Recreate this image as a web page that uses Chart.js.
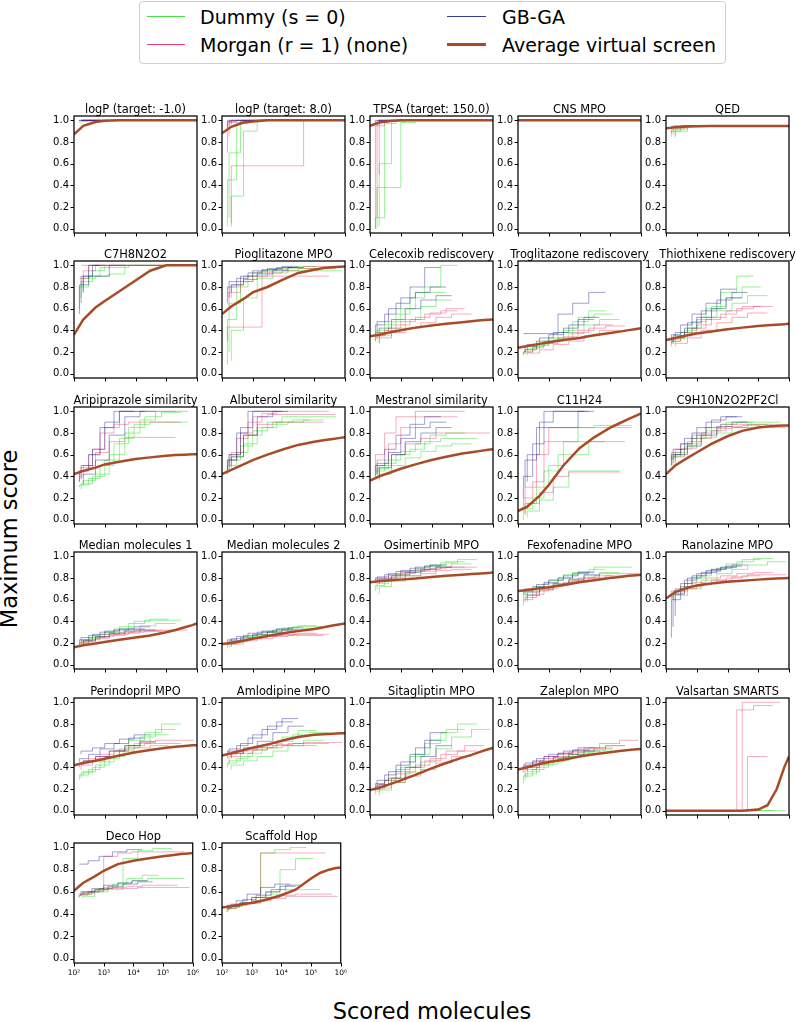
<!DOCTYPE html>
<html>
<head>
<meta charset="utf-8">
<script src="https://cdn.jsdelivr.net/npm/chart.js@4.4.1/dist/chart.umd.min.js"></script>
<style>
  body { margin: 0; background: #fff; font-family: "DejaVu Sans", sans-serif; }
  #page { position: relative; width: 796px; height: 1022px; overflow: hidden; }
  canvas { position: absolute; }
  .lg-box { position: absolute; left: 139px; top: 1px; width: 585px; height: 61px;
            border: 1px solid #d0d0d0; border-radius: 4px; }
  .lg-line { position: absolute; height: 0; }
  .lg-text { position: absolute; font-size: 19px; line-height: 19px; color: #000; white-space: nowrap; }
  .axis-title { position: absolute; font-size: 22.5px; line-height: 22.5px; color: #000; white-space: nowrap; }
</style>
</head>
<body>
<div id="page">
  <div class="lg-box"></div>
  <div class="lg-line" style="left:147px;top:16px;width:38px;border-top:1.5px solid #44e044"></div>
  <div class="lg-text" style="left:200px;top:8px">Dummy (s = 0)</div>
  <div class="lg-line" style="left:147px;top:44px;width:38px;border-top:1.5px solid #e8406a"></div>
  <div class="lg-text" style="left:200px;top:36px">Morgan (r = 1) (none)</div>
  <div class="lg-line" style="left:447px;top:16px;width:39px;border-top:1.5px solid #3a3a9a"></div>
  <div class="lg-text" style="left:502px;top:8px">GB-GA</div>
  <div class="lg-line" style="left:447px;top:43px;width:39px;border-top:3px solid #aa4b28"></div>
  <div class="lg-text" style="left:502px;top:36px">Average virtual screen</div>
  <div class="axis-title" style="left:9px;top:539px;transform:translate(-50%,-50%) rotate(-90deg)">Maximum score</div>
  <div class="axis-title" style="left:432px;top:1000px;transform:translateX(-50%)">Scored molecules</div>
</div>
<script>
// panel titles, row by row
const TITLES = [
  'logP (target: -1.0)', 'logP (target: 8.0)', 'TPSA (target: 150.0)', 'CNS MPO', 'QED',
  'C7H8N2O2', 'Pioglitazone MPO', 'Celecoxib rediscovery', 'Troglitazone rediscovery', 'Thiothixene rediscovery',
  'Aripiprazole similarity', 'Albuterol similarity', 'Mestranol similarity', 'C11H24', 'C9H10N2O2PF2Cl',
  'Median molecules 1', 'Median molecules 2', 'Osimertinib MPO', 'Fexofenadine MPO', 'Ranolazine MPO',
  'Perindopril MPO', 'Amlodipine MPO', 'Sitagliptin MPO', 'Zaleplon MPO', 'Valsartan SMARTS',
  'Deco Hop', 'Scaffold Hop'
];

// scored molecules at which each of the three runs reports its max score
const RUN_X = [
  [150, 300, 700, 2000, 6000, 20000, 70000, 300000],
  [170, 400, 1000, 3000, 9000, 30000, 120000, 500000],
  [200, 500, 1400, 4500, 14000, 45000, 200000, 800000]
];
const AVG_X = [100, 200, 500, 1000, 3000, 10000, 30000, 100000, 200000, 400000, 700000, 1000000];

const X_TICKS = [100, 1000, 10000, 100000, 1000000];
const X_TICK_LABELS = ['10²', '10³', '10⁴', '10⁵', '10⁶'];
const Y_TICKS = [0, 0.2, 0.4, 0.6, 0.8, 1.0];

const n = null;

const DUMMY = [
  [[0.98,1,1,1,1,1,1,1],[0.97,0.99,1,1,1,1,1,n],[0.99,1,1,1,1,1,1,1]],
  [[0.02,0.45,0.97,1,1,1,1,1],[0.1,0.7,0.99,1,1,1,1,n],[0.05,0.3,0.9,1,1,1,1,1]],
  [[0,0.1,0.97,1,1,1,1,1],[0,0.38,0.38,0.98,1,1,1,n],[0.02,0.6,0.99,1,1,1,1,1]],
  [[1,1,1,1,1,1,1,1],[1,1,1,1,1,1,1,n],[1,1,1,1,1,1,1,1]],
  [[0.85,0.9,0.94,0.948,0.948,0.948,0.948,0.948],[0.87,0.92,0.945,0.948,0.948,0.948,0.948,n],[0.84,0.9,0.94,0.948,0.948,0.948,0.948,0.948]],
  [[0.6,0.8,0.9,0.98,0.98,1,1,1],[0.7,0.85,0.95,1,1,1,1,n],[0.75,0.88,0.9,0.92,1,1,1,1]],
  [[0.08,0.5,0.8,0.9,0.95,0.97,0.97,0.97],[0.2,0.65,0.85,0.93,0.96,0.98,0.99,n],[0.12,0.4,0.7,0.88,0.93,0.95,0.95,0.95]],
  [[0.3,0.38,0.45,0.55,0.7,0.8,1,n],[0.32,0.4,0.48,0.6,0.75,0.75,n,n],[0.28,0.35,0.42,0.5,0.62,0.68,n,n]],
  [[0.17,0.2,0.25,0.3,0.38,0.48,0.58,n],[0.18,0.22,0.27,0.33,0.4,0.52,0.55,n],[0.2,0.23,0.28,0.32,0.37,0.45,0.5,n]],
  [[0.25,0.3,0.38,0.48,0.6,0.75,0.9,n],[0.27,0.32,0.4,0.5,0.62,0.7,0.8,n],[0.28,0.33,0.42,0.52,0.58,0.65,0.72,n]],
  [[0.3,0.32,0.38,0.5,0.7,0.85,0.95,0.99],[0.28,0.33,0.4,0.55,0.75,0.88,0.9,0.9],[0.32,0.36,0.42,0.6,0.8,0.92,1,n]],
  [[0.45,0.5,0.62,0.78,0.85,0.9,0.92,n],[0.48,0.55,0.68,0.82,0.9,0.95,0.95,0.95],[0.5,0.58,0.7,0.85,0.88,0.9,0.92,n]],
  [[0.38,0.45,0.52,0.6,0.65,0.72,0.75,0.75],[0.4,0.47,0.55,0.63,0.7,0.78,0.8,n],[0.36,0.42,0.5,0.57,0.63,0.68,0.7,n]],
  [[0,0.1,0.2,0.45,0.6,0.6,0.72,n],[0.05,0.15,0.3,0.5,0.72,0.85,0.87,0.87],[0.02,0.08,0.18,0.3,0.45,0.45,0.45,n]],
  [[0.5,0.58,0.65,0.75,0.82,0.88,0.9,n],[0.52,0.6,0.68,0.78,0.85,0.9,0.9,0.9],[0.55,0.62,0.7,0.76,0.8,0.85,0.88,n]],
  [[0.17,0.2,0.24,0.28,0.33,0.38,0.41,0.41],[0.18,0.22,0.26,0.3,0.35,0.4,0.42,n],[0.2,0.23,0.25,0.29,0.32,0.36,0.38,n]],
  [[0.15,0.19,0.22,0.26,0.3,0.33,0.35,0.35],[0.16,0.2,0.23,0.27,0.31,0.34,0.36,n],[0.17,0.21,0.24,0.28,0.3,0.32,0.33,n]],
  [[0.68,0.73,0.78,0.83,0.87,0.91,0.94,0.97],[0.7,0.75,0.8,0.84,0.88,0.92,0.95,n],[0.65,0.72,0.77,0.82,0.86,0.9,0.93,n]],
  [[0.6,0.65,0.7,0.75,0.8,0.85,0.88,n],[0.62,0.68,0.72,0.78,0.83,0.86,0.9,0.9],[0.58,0.64,0.69,0.74,0.78,0.82,0.85,n]],
  [[0.6,0.65,0.72,0.8,0.86,0.9,0.95,0.98],[0.62,0.68,0.75,0.82,0.88,0.93,0.97,n],[0.58,0.64,0.7,0.78,0.84,0.88,0.92,0.95]],
  [[0.28,0.33,0.38,0.45,0.55,0.65,0.72,0.8],[0.3,0.35,0.4,0.48,0.57,0.62,0.7,n],[0.32,0.36,0.42,0.5,0.58,0.68,0.75,n]],
  [[0.4,0.44,0.48,0.53,0.58,0.64,0.7,0.72],[0.42,0.46,0.5,0.56,0.62,0.68,0.74,n],[0.38,0.42,0.46,0.5,0.55,0.6,0.65,n]],
  [[0.15,0.2,0.28,0.38,0.5,0.62,0.72,0.8],[0.17,0.23,0.3,0.4,0.52,0.65,0.75,n],[0.14,0.19,0.26,0.35,0.45,0.57,0.68,0.75]],
  [[0.25,0.32,0.38,0.43,0.48,0.52,0.56,0.6],[0.28,0.34,0.4,0.45,0.5,0.54,0.58,n],[0.3,0.36,0.42,0.46,0.5,0.53,0.55,n]],
  [[0,0,0,0,0,0,0,0],[0,0,0,0,0,0,0,n],[0,0,0,0,0,0,0,0]],
  [[0.55,0.57,0.6,0.63,0.67,0.72,0.75,n],[0.56,0.58,0.61,0.64,0.68,0.7,0.72,0.72],[0.54,0.56,0.6,0.62,0.9,0.97,0.99,n]],
  [[0.42,0.45,0.48,0.5,0.95,0.98,1,n],[0.43,0.46,0.5,0.55,0.6,0.8,0.9,n],[0.44,0.47,0.5,0.55,0.58,0.62,0.62,n]]
];

const MORGAN = [
  [[1,1,1,1,1,1,1,1],[0.99,1,1,1,1,1,1,1],[1,1,1,1,1,1,1,1]],
  [[0.7,1,1,1,1,1,1,1],[0.85,0.98,1,1,1,1,1,1],[0.02,0.58,0.58,0.58,0.58,0.58,1,1]],
  [[0,0.95,1,1,1,1,1,1],[0.1,0.98,1,1,1,1,1,1],[0.5,1,1,1,1,1,1,1]],
  [[1,1,1,1,1,1,1,1],[1,1,1,1,1,1,1,1],[1,1,1,1,1,1,1,1]],
  [[0.88,0.93,0.946,0.948,0.948,0.948,0.948,0.948],[0.9,0.94,0.948,0.948,0.948,0.948,0.948,0.948],[0.86,0.92,0.947,0.948,0.948,0.948,0.948,0.948]],
  [[0.88,0.88,1,1,1,1,1,1],[1,1,1,1,1,1,1,1],[0.8,0.95,1,1,1,1,1,1]],
  [[0.3,0.43,0.43,0.43,0.9,0.9,0.9,0.9],[0.6,0.75,0.85,0.9,0.93,0.95,0.97,0.97],[0.7,0.82,0.9,0.94,0.96,0.98,0.99,0.99]],
  [[0.3,0.35,0.4,0.45,0.5,0.55,0.58,n],[0.32,0.38,0.42,0.48,0.52,0.56,0.6,n],[0.28,0.33,0.38,0.42,0.47,0.52,0.55,n]],
  [[0.18,0.2,0.24,0.28,0.33,0.38,0.42,0.44],[0.2,0.22,0.26,0.3,0.34,0.4,0.45,n],[0.17,0.19,0.22,0.27,0.3,0.35,0.4,n]],
  [[0.27,0.3,0.35,0.42,0.5,0.55,0.6,0.62],[0.3,0.33,0.38,0.45,0.52,0.58,0.62,n],[0.25,0.28,0.33,0.4,0.47,0.52,0.56,n]],
  [[0.35,0.45,0.6,0.8,0.88,0.9,0.9,0.9],[0.38,0.48,0.65,0.85,1,1,1,1],[0.4,0.5,0.62,0.72,0.76,0.76,0.76,n]],
  [[0.45,0.55,0.75,0.9,0.98,1,1,1],[0.5,0.6,0.8,0.95,0.97,0.97,0.97,0.97],[0.55,0.62,0.78,0.88,0.9,0.9,0.9,n]],
  [[0.45,0.6,0.8,0.95,0.95,0.95,0.95,n],[0.42,0.55,0.7,0.85,1,1,1,n],[0.4,0.5,0.6,0.7,0.75,0.8,0.8,0.8]],
  [[0.1,0.2,0.35,0.72,0.72,0.72,0.72,0.72],[0.05,0.3,0.6,0.85,0.85,0.85,0.85,0.85],[0.1,0.15,0.25,0.4,0.44,0.44,0.44,n]],
  [[0.55,0.62,0.7,0.78,0.85,0.88,0.88,0.88],[0.5,0.58,0.66,0.75,0.82,0.86,0.87,n],[0.58,0.65,0.72,0.8,0.84,0.85,0.85,0.85]],
  [[0.18,0.2,0.23,0.26,0.28,0.3,0.31,n],[0.2,0.22,0.25,0.28,0.3,0.32,0.32,0.32],[0.19,0.21,0.24,0.27,0.29,0.31,0.31,n]],
  [[0.18,0.2,0.22,0.24,0.26,0.27,0.28,0.28],[0.19,0.21,0.23,0.25,0.27,0.28,0.29,n],[0.16,0.19,0.22,0.24,0.26,0.27,0.27,n]],
  [[0.75,0.78,0.8,0.83,0.86,0.88,0.9,0.9],[0.76,0.79,0.82,0.85,0.87,0.89,0.9,n],[0.74,0.77,0.8,0.82,0.84,0.87,0.88,n]],
  [[0.55,0.6,0.65,0.7,0.74,0.78,0.8,0.82],[0.58,0.62,0.68,0.72,0.76,0.8,0.82,n],[0.6,0.64,0.69,0.73,0.77,0.8,0.84,0.84]],
  [[0.62,0.68,0.72,0.76,0.8,0.82,0.84,0.85],[0.6,0.66,0.7,0.74,0.78,0.8,0.82,n],[0.64,0.68,0.72,0.75,0.78,0.81,0.83,0.83]],
  [[0.4,0.44,0.48,0.52,0.56,0.6,0.62,0.62],[0.38,0.42,0.46,0.5,0.55,0.58,0.6,n],[0.42,0.46,0.5,0.55,0.6,0.63,0.65,0.65]],
  [[0.48,0.52,0.55,0.58,0.6,0.61,0.62,0.62],[0.45,0.5,0.53,0.56,0.58,0.6,0.6,n],[0.5,0.53,0.56,0.58,0.6,0.62,0.63,0.63]],
  [[0.18,0.22,0.28,0.34,0.4,0.46,0.52,0.55],[0.2,0.24,0.3,0.36,0.42,0.48,0.55,0.6],[0.17,0.21,0.26,0.32,0.38,0.44,0.5,n]],
  [[0.35,0.4,0.45,0.5,0.53,0.56,0.58,0.6],[0.32,0.38,0.43,0.48,0.52,0.55,0.57,n],[0.38,0.42,0.46,0.5,0.54,0.58,0.62,0.65]],
  [[0,0,0,0,0,0,0.93,0.97],[0,0,0,0,0,0,1,1],[0,0,0,0,0,0,0.5,n]],
  [[0.55,0.58,0.6,0.63,0.64,0.65,0.66,0.66],[0.56,0.58,0.6,0.92,0.95,0.96,0.96,0.96],[0.57,0.59,0.62,0.63,0.63,0.64,0.64,0.64]],
  [[0.42,0.45,0.48,0.5,0.95,0.95,0.95,0.95],[0.44,0.47,0.5,0.52,0.55,0.57,0.58,0.58],[0.45,0.48,0.5,0.52,0.54,0.56,0.56,0.56]]
];

const GBGA = [
  [[0.995,1,1,1,1,1,n,n],[1,1,1,1,1,1,n,n],[0.99,1,1,1,1,1,n,n]],
  [[0.93,0.99,1,1,1,1,n,n],[0.95,1,1,1,1,1,n,n],[0.96,1,1,1,1,1,n,n]],
  [[0.97,1,1,1,1,1,n,n],[0.98,1,1,1,1,1,n,n],[0.96,1,1,1,1,1,n,n]],
  [[1,1,1,1,n,n,n,n],[1,1,1,1,n,n,n,n],[1,1,1,n,n,n,n,n]],
  [[0.92,0.945,0.948,0.948,0.948,0.948,n,n],[0.93,0.946,0.948,0.948,0.948,0.948,n,n],[0.935,0.947,0.948,0.948,0.948,0.948,n,n]],
  [[0.55,0.82,1,n,n,n,n,n],[0.65,0.9,1,n,n,n,n,n],[0.75,0.9,0.9,1,n,n,n,n]],
  [[0.65,0.8,0.88,0.93,0.96,0.98,n,n],[0.7,0.85,0.9,0.95,0.97,0.99,n,n],[0.75,0.82,0.87,0.92,0.95,0.98,n,n]],
  [[0.35,0.45,0.55,0.65,0.8,0.98,n,n],[0.38,0.48,0.6,0.7,0.75,0.8,n,n],[0.33,0.42,0.5,0.6,0.68,0.72,n,n]],
  [[0.37,0.37,0.37,0.37,0.55,0.65,0.75,n],[0.2,0.25,0.3,0.36,0.42,0.5,n,n],[0.22,0.27,0.33,0.38,0.45,0.52,n,n]],
  [[0.3,0.36,0.45,0.55,0.65,0.78,n,n],[0.28,0.35,0.42,0.52,0.6,0.7,n,n],[0.32,0.38,0.47,0.58,0.68,0.75,n,n]],
  [[0.35,0.45,0.6,0.85,1,1,n,n],[0.38,0.5,0.65,0.9,1,n,n,n],[0.33,0.42,0.55,0.78,0.95,1,n,n]],
  [[0.42,0.55,0.8,1,1,n,n,n],[0.45,0.6,0.85,1,1,n,n,n],[0.48,0.58,0.78,0.95,1,n,n,n]],
  [[0.4,0.5,0.65,0.78,0.88,0.95,n,n],[0.42,0.52,0.62,0.75,0.85,0.9,n,n],[0.38,0.48,0.6,0.72,0.8,0.85,n,n]],
  [[0.2,0.4,0.7,1,1,1,n,n],[0.3,0.55,0.85,0.85,0.85,1,n,n],[0.35,0.6,0.9,1,1,n,n,n]],
  [[0.5,0.6,0.7,0.8,0.9,0.95,n,n],[0.55,0.65,0.75,0.85,0.92,0.95,n,n],[0.52,0.6,0.68,0.78,0.86,0.9,n,n]],
  [[0.2,0.23,0.27,0.3,0.32,0.33,n,n],[0.22,0.25,0.28,0.31,0.33,0.35,n,n],[0.19,0.22,0.26,0.29,0.31,0.32,n,n]],
  [[0.2,0.23,0.26,0.29,0.31,0.33,n,n],[0.19,0.22,0.25,0.28,0.3,0.32,n,n],[0.21,0.24,0.27,0.3,0.32,0.34,n,n]],
  [[0.77,0.8,0.83,0.86,0.89,0.91,n,n],[0.78,0.81,0.84,0.87,0.9,0.92,n,n],[0.76,0.79,0.82,0.85,0.88,0.9,n,n]],
  [[0.65,0.68,0.72,0.76,0.8,0.84,n,n],[0.66,0.7,0.74,0.78,0.82,0.85,n,n],[0.63,0.67,0.71,0.75,0.79,0.83,n,n]],
  [[0.25,0.6,0.75,0.82,0.87,0.9,n,n],[0.35,0.65,0.78,0.84,0.88,0.91,n,n],[0.45,0.7,0.8,0.85,0.89,0.92,n,n]],
  [[0.45,0.48,0.52,0.57,0.62,0.67,n,n],[0.52,0.55,0.58,0.62,0.66,0.7,n,n],[0.43,0.46,0.5,0.55,0.6,0.64,n,n]],
  [[0.5,0.55,0.6,0.67,0.75,0.82,n,n],[0.52,0.57,0.62,0.7,0.78,0.85,n,n],[0.48,0.53,0.58,0.64,0.72,0.78,n,n]],
  [[0.2,0.25,0.33,0.42,0.52,0.65,n,n],[0.22,0.28,0.36,0.45,0.58,0.72,n,n],[0.19,0.24,0.3,0.4,0.5,0.6,n,n]],
  [[0.38,0.42,0.46,0.5,0.53,0.56,n,n],[0.4,0.44,0.48,0.52,0.55,0.58,n,n],[0.36,0.4,0.45,0.49,0.52,0.55,n,n]],
  [[0,0,0,0,0,0,n,n],[0,0,0,0,0,0,n,n],[0,0,0,0,0,0,n,n]],
  [[0.85,0.85,0.88,0.92,0.96,0.98,n,n],[0.57,0.6,0.63,0.66,0.68,0.7,n,n],[0.58,0.6,0.62,0.65,0.67,0.69,n,n]],
  [[0.45,0.48,0.52,0.58,0.64,0.67,n,n],[0.44,0.47,0.5,0.55,0.6,0.65,n,n],[0.46,0.49,0.53,0.57,0.62,0.66,n,n]]
];

// average virtual screen, on AVG_X
const AVG = [
  [0.87,0.95,0.985,0.995,1,1,1,1,1,1,1,1],
  [0.88,0.94,0.98,0.99,1,1,1,1,1,1,1,1],
  [0.95,0.98,0.995,1,1,1,1,1,1,1,1,1],
  [1,1,1,1,1,1,1,1,1,1,1,1],
  [0.928,0.935,0.942,0.945,0.947,0.948,0.948,0.948,0.948,0.948,0.948,0.948],
  [0.36,0.5,0.61,0.67,0.76,0.86,0.95,1,1,1,1,1],
  [0.55,0.62,0.69,0.75,0.8,0.87,0.93,0.96,0.975,0.983,0.988,0.99],
  [0.345,0.36,0.385,0.4,0.425,0.445,0.46,0.475,0.484,0.492,0.497,0.5],
  [0.24,0.255,0.275,0.29,0.31,0.33,0.355,0.375,0.388,0.402,0.413,0.42],
  [0.31,0.33,0.355,0.37,0.39,0.41,0.425,0.44,0.446,0.452,0.457,0.46],
  [0.42,0.45,0.48,0.51,0.535,0.56,0.575,0.59,0.596,0.6,0.603,0.605],
  [0.42,0.46,0.51,0.55,0.6,0.65,0.69,0.72,0.733,0.745,0.755,0.76],
  [0.36,0.4,0.44,0.47,0.51,0.55,0.58,0.61,0.622,0.635,0.645,0.65],
  [0.08,0.12,0.22,0.32,0.5,0.66,0.76,0.85,0.89,0.93,0.96,0.98],
  [0.42,0.5,0.57,0.62,0.7,0.77,0.82,0.85,0.86,0.866,0.869,0.87],
  [0.16,0.18,0.195,0.21,0.23,0.25,0.27,0.3,0.32,0.345,0.365,0.38],
  [0.19,0.2,0.22,0.24,0.265,0.29,0.31,0.33,0.345,0.362,0.374,0.38],
  [0.76,0.77,0.78,0.785,0.795,0.81,0.82,0.83,0.836,0.842,0.847,0.85],
  [0.68,0.69,0.705,0.715,0.735,0.76,0.78,0.8,0.81,0.82,0.826,0.83],
  [0.61,0.67,0.71,0.73,0.75,0.765,0.775,0.785,0.79,0.795,0.798,0.8],
  [0.42,0.44,0.46,0.48,0.51,0.54,0.56,0.58,0.59,0.598,0.603,0.605],
  [0.51,0.53,0.56,0.58,0.61,0.65,0.68,0.7,0.706,0.711,0.714,0.715],
  [0.19,0.21,0.25,0.28,0.33,0.39,0.44,0.49,0.515,0.545,0.567,0.58],
  [0.38,0.4,0.43,0.45,0.47,0.5,0.52,0.54,0.55,0.56,0.566,0.57],
  [0,0,0,0,0,0,0,0.01,0.05,0.2,0.4,0.5],
  [0.61,0.68,0.74,0.79,0.85,0.88,0.9,0.92,0.93,0.94,0.946,0.95],
  [0.46,0.47,0.49,0.5,0.53,0.57,0.62,0.72,0.77,0.8,0.815,0.82]
];

const COLORS = {
  dummy: 'rgba(0, 220, 0, 0.4)',
  morgan: 'rgba(230, 20, 70, 0.35)',
  gbga: 'rgba(20, 20, 140, 0.4)',
  avg: '#aa4b28'
};

const AXIS_W = 44, PAD_T = 22, PAD_R = 8, PLOT_W = 123, PLOT_H = 120;

// box, tick marks and panel title
const framePlugin = {
  id: 'frame',
  afterDraw(chart, args, opts) {
    const { ctx, chartArea: a, scales } = chart;
    ctx.save();
    ctx.strokeStyle = '#000';
    ctx.lineWidth = 1;
    ctx.beginPath();
    Y_TICKS.forEach(v => {
      const y = Math.round(scales.y.getPixelForValue(v)) + 0.5;
      ctx.moveTo(a.left - 3.5, y); ctx.lineTo(a.left, y);
    });
    X_TICKS.forEach(v => {
      const x = Math.round(scales.x.getPixelForValue(v)) + 0.5;
      ctx.moveTo(x, a.bottom); ctx.lineTo(x, a.bottom + 3.5);
    });
    ctx.stroke();
    ctx.lineWidth = 1.25;
    ctx.strokeRect(a.left, a.top, a.right - a.left, a.bottom - a.top);
    ctx.fillStyle = '#000';
    ctx.font = '11.4px "DejaVu Sans"';
    ctx.textAlign = 'center';
    ctx.textBaseline = 'alphabetic';
    ctx.fillText(opts.text, (a.left + a.right) / 2, a.top - 3);
    ctx.restore();
  }
};

function runSets(runs, color, order) {
  return runs.map((ys, r) => ({
    data: ys.map((y, i) => ({ x: RUN_X[r][i], y: y })),
    borderColor: color,
    borderWidth: 1,
    stepped: 'after',
    order: order
  }));
}

const page = document.getElementById('page');

TITLES.forEach((title, p) => {
  const row = Math.floor(p / 5), col = p % 5;
  const bottomRow = row === 5;
  const left = 74 + col * 148;
  const top = Math.round(115.7 + row * 145.5);
  const xH = bottomRow ? 22 : 8;

  const canvas = document.createElement('canvas');
  canvas.width = AXIS_W + PLOT_W + PAD_R;
  canvas.height = PAD_T + PLOT_H + xH;
  canvas.style.left = (left - AXIS_W) + 'px';
  canvas.style.top = (top - PAD_T) + 'px';
  page.appendChild(canvas);

  const datasets = [
    {
      data: AVG[p].map((y, i) => ({ x: AVG_X[i], y: y })),
      borderColor: COLORS.avg,
      borderWidth: 2.5,
      order: 0
    },
    ...runSets(GBGA[p], COLORS.gbga, 1),
    ...runSets(MORGAN[p], COLORS.morgan, 2),
    ...runSets(DUMMY[p], COLORS.dummy, 3)
  ];

  new Chart(canvas, {
    type: 'line',
    data: { datasets },
    options: {
      responsive: false,
      animation: false,
      devicePixelRatio: 1,
      layout: { padding: { left: 0, top: PAD_T, right: PAD_R, bottom: 0 } },
      elements: { point: { radius: 0 }, line: { tension: 0 } },
      plugins: {
        legend: { display: false },
        tooltip: { enabled: false },
        frame: { text: title }
      },
      scales: {
        x: {
          type: 'logarithmic',
          min: 100,
          max: 1000000,
          grid: { display: false, drawTicks: false },
          border: { display: false },
          afterBuildTicks: s => { s.ticks = X_TICKS.map(v => ({ value: v })); },
          afterFit: s => { s.height = xH; },
          ticks: {
            display: bottomRow,
            autoSkip: false,
            maxRotation: 0,
            padding: 6,
            color: '#000',
            font: { family: 'DejaVu Sans', size: 7.5 },
            callback: (v, i) => X_TICK_LABELS[i]
          }
        },
        y: {
          min: -0.04,
          max: 1.04,
          grid: { display: false, drawTicks: false },
          border: { display: false },
          afterBuildTicks: s => { s.ticks = Y_TICKS.map(v => ({ value: v })); },
          afterFit: s => { s.width = AXIS_W; },
          ticks: {
            padding: 5,
            color: '#000',
            font: { family: 'DejaVu Sans', size: 10 },
            callback: v => v.toFixed(1)
          }
        }
      }
    },
    plugins: [framePlugin]
  });
});
</script>
</body>
</html>
